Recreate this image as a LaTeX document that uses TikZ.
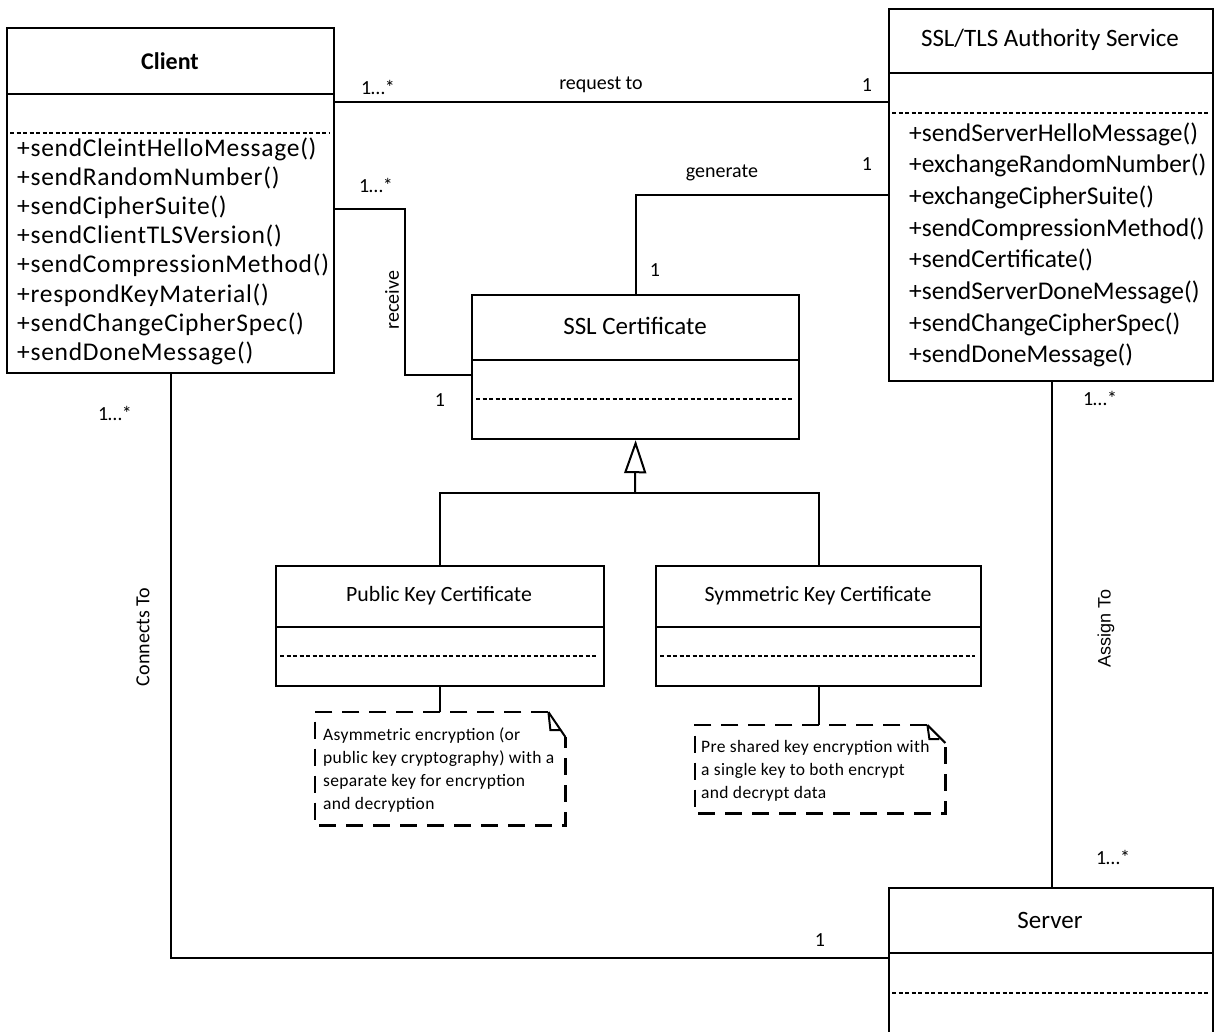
\documentclass[tikz,border=0pt]{standalone}
\usepackage{fontspec}
\setmainfont{Carlito}
\newfontfamily\arialfont{Liberation Sans}
\newfontfamily\spacedfont[LetterSpace=2.8]{Carlito}
\newfontfamily\notefont[LetterSpace=2]{Carlito}
\usetikzlibrary{arrows.meta,calc}
\begin{document}
\begin{tikzpicture}[x=1pt,y=-1pt,
  box/.style={draw, line width=2.2pt, inner sep=0pt, anchor=north west},
  sepline/.style={line width=2.2pt},
  dsep/.style={line width=1.8pt, dash pattern=on 4pt off 2.5pt},
  conn/.style={line width=2pt},
  lbl/.style={font=\fontsize{20}{24}\selectfont, inner sep=0pt},
  ttl/.style={font=\fontsize{25}{30}\selectfont, inner sep=0pt},
  sttl/.style={font=\fontsize{21.8}{25}\selectfont, inner sep=0pt},
  meth/.style={font=\fontsize{25.5}{30}\selectfont, anchor=base west, inner sep=0pt},
  cmeth/.style={font=\spacedfont\fontsize{25.5}{30}\selectfont, anchor=base west, inner sep=0pt},
  notedash/.style={line width=2.5pt, dash pattern=on 17pt off 10pt},
  notebox/.style={inner sep=0pt, anchor=north west},
  notetext/.style={font=\notefont\fontsize{17.5}{22.7}\selectfont, anchor=base west, inner sep=0pt},
]
\useasboundingbox (0,0) rectangle (1214,1031);

% ---------- Client ----------
\node[box, minimum width=327pt, minimum height=345pt] (client) at (6,27) {};
\node[font=\bfseries\fontsize{24}{28}\selectfont, inner sep=0pt] (clientT) at (170,61) {Client};
\draw[sepline] (6,94) -- (333,94);
\draw[dsep] (10,133) -- (329,133);
\foreach \t [count=\i from 0] in {+sendCleintHelloMessage(),+sendRandomNumber(),+sendCipherSuite(),+sendClientTLSVersion(),+sendCompressionMethod(),+respondKeyMaterial(),+sendChangeCipherSpec(),+sendDoneMessage()}
  \node[cmeth] (cm\i) at (17,{156+29.2*\i}) {\t};

% ---------- SSL/TLS Authority Service ----------
\node[box, minimum width=324pt, minimum height=372pt] (tls) at (888,8) {};
\node[ttl] (tlsT) at (1050,40) {SSL/TLS Authority Service};
\draw[sepline] (888,73) -- (1212,73);
\draw[dsep] (892,113) -- (1208,113);
\foreach \t [count=\i from 0] in {+sendServerHelloMessage(),+exchangeRandomNumber(),+exchangeCipherSuite(),+sendCompressionMethod(),+sendCertificate(),+sendServerDoneMessage(),+sendChangeCipherSpec(),+sendDoneMessage()}
  \node[meth] (tm\i) at (909,{141+31.7*\i}) {\t};

% ---------- SSL Certificate ----------
\node[box, minimum width=327pt, minimum height=144pt] (sslc) at (471,294) {};
\node[ttl] (sslcT) at (635,326) {SSL Certificate};
\draw[sepline] (471,360) -- (798,360);
\draw[dsep] (476,399) -- (793,399);

% ---------- Public Key Certificate ----------
\node[box, minimum width=328pt, minimum height=120pt] (pub) at (275,565) {};
\node[sttl] (pubT) at (439,596) {Public Key Certificate};
\draw[sepline] (275,627) -- (603,627);
\draw[dsep] (280,656) -- (598,656);

% ---------- Symmetric Key Certificate ----------
\node[box, minimum width=325pt, minimum height=120pt] (sym) at (655,565) {};
\node[sttl] (symT) at (818,596) {Symmetric Key Certificate};
\draw[sepline] (655,627) -- (980,627);
\draw[dsep] (660,656) -- (975,656);

% ---------- Server ----------
\node[box, minimum width=324pt, minimum height=160pt] (server) at (888,887) {};
\node[ttl] (serverT) at (1050,920) {Server};
\draw[sepline] (888,953) -- (1212,953);
\draw[dsep] (892,993) -- (1208,993);

% ---------- Notes ----------
\node[notebox, minimum width=250pt, minimum height=113pt] (pubnote) at (315,712) {};
\draw[notedash] ($(pubnote.north east)+(-17,0)$) -- (pubnote.north west) -- (pubnote.south west) -- (pubnote.south east) -- ($(pubnote.north east)+(0,25)$);
\draw[conn] ($(pubnote.north east)+(-17,0)$) -- ($(pubnote.north east)+(0,25)$);
\draw[conn] ($(pubnote.north east)+(-17,0)$) -- ($(pubnote.north east)+(-15,18)$) -- ($(pubnote.north east)+(-5,18)$);
\node[notetext] (pn1) at (323,740) {Asymmetric encryption (or};
\node[notetext] (pn2) at (323,763) {public key cryptography) with a};
\node[notetext] (pn3) at (323,786) {separate key for encryption};
\node[notetext] (pn4) at (323,809) {and decryption};

\node[notebox, minimum width=250pt, minimum height=88pt] (symnote) at (695,725) {};
\draw[notedash] ($(symnote.north east)+(-18,0)$) -- (symnote.north west) -- (symnote.south west) -- (symnote.south east) -- ($(symnote.north east)+(0,18)$);
\draw[conn] ($(symnote.north east)+(-18,0)$) -- ($(symnote.north east)+(0,18)$);
\draw[conn] ($(symnote.north east)+(-18,0)$) -- ($(symnote.north east)+(-16,14)$) -- ($(symnote.north east)+(-6,14)$);
\node[notetext] (sn1) at (701,752) {Pre shared key encryption with};
\node[notetext] (sn2) at (701,775) {a single key to both encrypt};
\node[notetext] (sn3) at (701,798) {and decrypt data};

\draw[conn] (pub.south) -- (pub.south |- pubnote.north);
\draw[conn] (sym.south) -- (sym.south |- symnote.north);

% ---------- Connectors ----------
% request to
\draw[conn] ($(client.north east)+(0,75)$) -- ($(tls.north west)+(0,94)$);
\node[lbl] (reqL) at (601,85) {request to};
\node[lbl] (reqM1) at (378,87) {1…*};
\node[lbl] (reqM2) at (867,85) {1};

% receive
\draw[conn] ($(client.north east)+(0,182)$) -| (405,375) -- ($(sslc.north west)+(0,81)$);
\node[lbl, rotate=90] (recL) at (392,300) {receive};
\node[lbl] (recM1) at (376,185) {1…*};
\node[lbl] (recM2) at (440,400) {1};

% generate
\draw[conn] (sslc.north) |- ($(tls.north west)+(0,187)$);
\node[lbl] (genL) at (722,173) {generate};
\node[lbl] (genM1) at (655,270) {1};
\node[lbl] (genM2) at (867,164) {1};

% generalization
\coordinate (gj) at (635,493);
\draw[conn] (pub.north) |- (gj) -| (sym.north);
\draw[conn, -{Triangle[open, width=22pt, length=33pt]}] (gj) -- (sslc.south);

% assign to
\draw[conn] (tls.south -| 1052,0) -- (server.north -| 1052,0);
\node[font=\arialfont\fontsize{18}{22}\selectfont, inner sep=0pt, rotate=90] (asgL) at (1106,628) {Assign To};
\node[lbl] (asgM1) at (1100,398) {1…*};
\node[lbl] (asgM2) at (1113,857) {1…*};

% connects to
\draw[conn] (client.south) |- ($(server.north west)+(0,71)$);
\node[lbl, rotate=90] (conL) at (143,637) {Connects To};
\node[lbl] (conM1) at (115,413) {1…*};
\node[lbl] (conM2) at (820,940) {1};

\end{tikzpicture}
\end{document}
